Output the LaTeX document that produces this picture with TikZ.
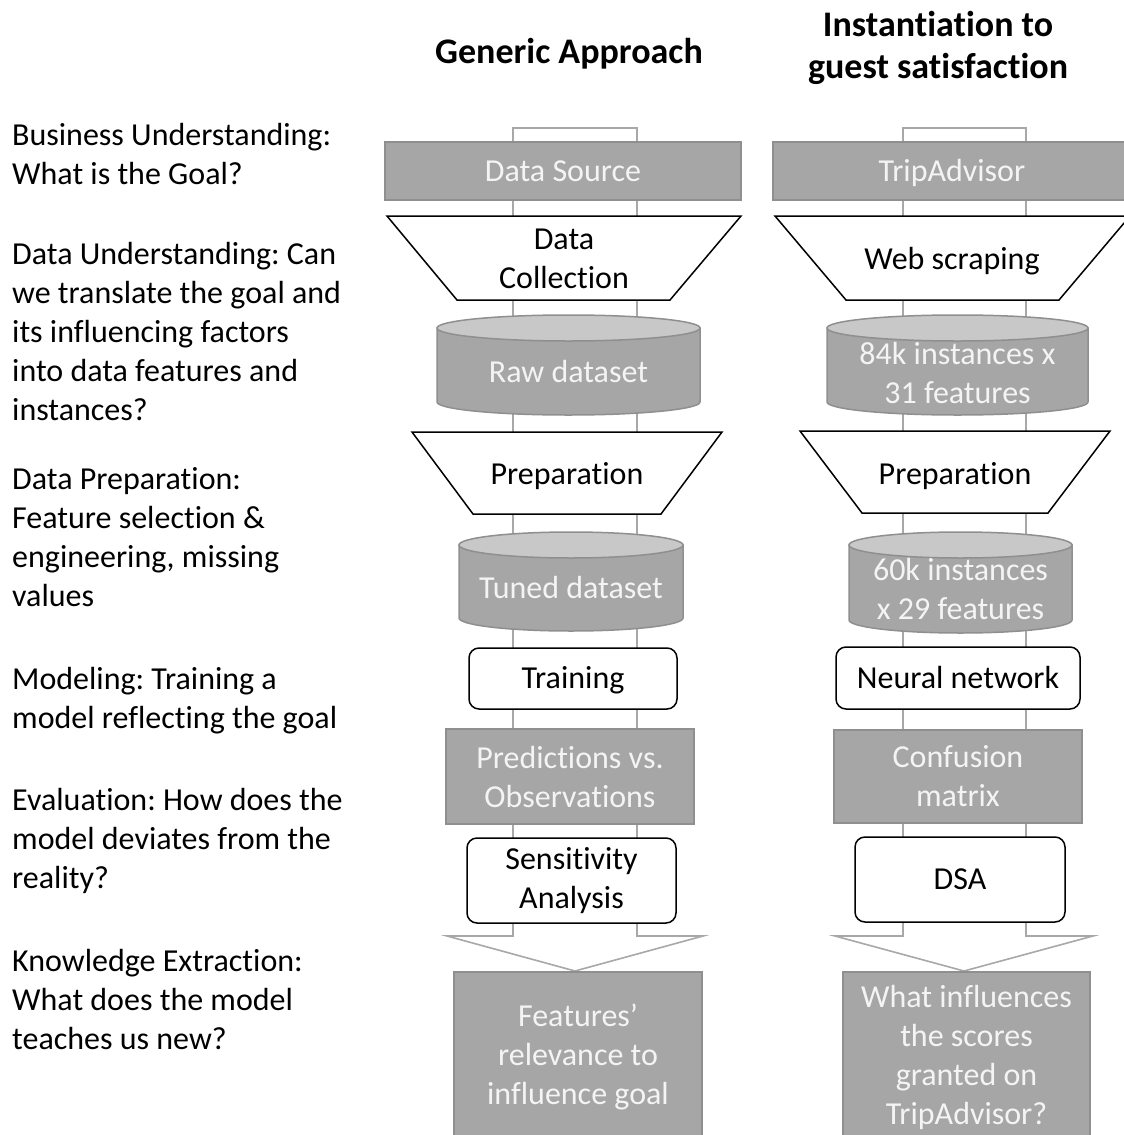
\documentclass[tikz,border=0pt]{standalone}
\usepackage{fontspec}
\setmainfont{Carlito}[Ligatures=NoCommon]
\frenchspacing
\definecolor{boxgrey}{HTML}{A6A6A6}
\definecolor{boxedge}{HTML}{8F8F8F}
\definecolor{drumlid}{HTML}{C8C8C8}
\definecolor{boxtext}{HTML}{F4F4F4}
\definecolor{pipegrey}{HTML}{A8A8A8}
% stacked lines with a fixed baseline (the first line's)
\newcommand\stackl[1]{\vtop{\halign{##\hfil\cr#1\crcr}}}
\newcommand\stackc[1]{\vtop{\halign{\hfil##\hfil\cr#1\crcr}}}
% database drum: name, left x, right x, top y, bottom y, text y, text
\newcommand\drum[7]{%
  \pgfmathsetmacro\drumcx{(#2+#3)/2}%
  \pgfmathsetmacro\drumrx{(#3-#2)/2}%
  \draw[drumbody] (#2,#4+13) -- (#2,#5-13)
     arc[start angle=180, end angle=0, x radius=\drumrx, y radius=13]
     -- (#3,#4+13) -- cycle;
  \draw[drumtop] (\drumcx,#4+13) ellipse[x radius=\drumrx, y radius=13];
  \node[drumtext] (#1) at (\drumcx,#6) {#7};
}
\begin{document}
\begin{tikzpicture}[x=1pt,y=-1pt,
  font=\fontsize{32}{39}\selectfont,
  pipe/.style={draw=pipegrey, line width=1.6pt, fill=white, line join=miter},
  greybox/.style={draw=boxedge, fill=boxgrey, line width=1.5pt, text=boxtext,
    align=center, inner sep=0pt},
  whitebox/.style={draw=black, fill=white, line width=1.5pt, rounded corners=10pt,
    align=center, inner sep=0pt},
  oneline/.style={text height=20.6pt, text depth=0pt},
  funnel/.style={draw=black, fill=white, line width=1.5pt, line join=miter},
  drumbody/.style={draw=boxedge, fill=boxgrey, line width=1.5pt},
  drumtop/.style={draw=boxedge, fill=drumlid, line width=1.5pt},
  drumtext/.style={text=boxtext, align=center, inner sep=0pt},
  plain/.style={inner sep=0pt, align=center},
  phase/.style={inner sep=0pt, anchor=base west},
  heading/.style={inner sep=0pt, anchor=base, font=\fontsize{36}{42}\selectfont\bfseries}]

\clip (0,0) rectangle (1124,1135);

% column headings
\node[heading] (tgen) at (569,63) {Generic Approach};
\node[heading] (tinst) at (938,36) {\stackc{Instantiation to\cr guest satisfaction}};

% phase descriptions
\node[phase] (bu) at (12,145) {\stackl{Business Understanding:\cr What is the Goal?}};
\node[phase] (du) at (12,264) {\stackl{Data Understanding: Can\cr we translate the goal and\cr its influencing factors\cr into data features and\cr instances?}};
\node[phase] (dp) at (12,489) {\stackl{Data Preparation:\cr Feature selection \&\cr engineering, missing\cr values}};
\node[phase] (mo) at (12,689) {\stackl{Modeling: Training a\cr model reflecting the goal}};
\node[phase] (ev) at (12,810) {\stackl{Evaluation: How does the\cr model deviates from the\cr reality?}};
\node[phase] (ke) at (12,971) {\stackl{Knowledge Extraction:\cr What does the model\cr teaches us new?}};

% flow channels ending in an arrow head
\draw[pipe] (513,128) -- (637,128) -- (637,936) -- (703,936) -- (575,971)
  -- (447,936) -- (513,936) -- cycle;
\draw[pipe] (903,128) -- (1026,128) -- (1026,936) -- (1093,936) -- (964,971)
  -- (835,936) -- (903,936) -- cycle;

% generic approach
\node[greybox, oneline, minimum width=356, minimum height=58] (src) at (563,171) {Data Source};
\draw[funnel] (387,216) -- (741,216) -- (670,300) -- (457,300) -- cycle;
\node[plain] (coll) at (564,258.5) {Data\\Collection};
\drum{raw}{437}{700}{315}{415}{372}{Raw dataset}
\draw[funnel] (412,432) -- (722,432) -- (661,514) -- (473,514) -- cycle;
\node[plain] (prepA) at (567,476) {Preparation};
\drum{tuned}{459}{683}{532}{631}{588}{Tuned dataset}
\node[whitebox, oneline, minimum width=208, minimum height=61] (train) at (573,678.5) {Training};
\node[greybox, minimum width=248, minimum height=95] (pred) at (570,776.5) {Predictions vs.\\Observations};
\node[whitebox, minimum width=209, minimum height=85] (sens) at (571.5,880.5) {Sensitivity\\Analysis};
\node[greybox, minimum width=248, minimum height=170] (feat) at (578,1057) {Features’\\relevance to\\influence goal};

% instantiation to guest satisfaction
\node[greybox, oneline, minimum width=358, minimum height=58] (trip) at (952,171) {TripAdvisor};
\draw[funnel] (775,216) -- (1130,216) -- (1059,300) -- (846,300) -- cycle;
\node[plain] (scrape) at (952,261) {Web scraping};
\drum{big}{827}{1088}{315}{415}{373.5}{84k instances x\\31 features}
\draw[funnel] (800,431) -- (1110,431) -- (1048,513) -- (862,513) -- cycle;
\node[plain] (prepB) at (955,476) {Preparation};
\drum{small}{849}{1072}{532}{633}{588.5}{60k instances\\x 29 features}
\node[whitebox, oneline, minimum width=244, minimum height=62] (nn) at (958,678) {Neural network};
\node[greybox, minimum width=248, minimum height=93] (conf) at (958,776.5) {Confusion\\matrix};
\node[whitebox, oneline, minimum width=210, minimum height=85] (dsa) at (960,879.5) {DSA};
\node[greybox, minimum width=247, minimum height=170] (what) at (966.5,1057) {What influences\\the scores\\granted on\\TripAdvisor?};
\end{tikzpicture}
\end{document}
